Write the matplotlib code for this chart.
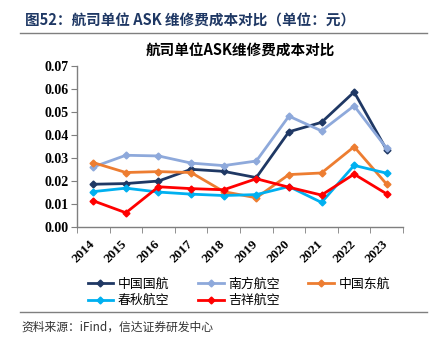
import numpy as np
import matplotlib
matplotlib.use('Agg')
import matplotlib.pyplot as plt
from matplotlib.lines import Line2D

plt.rcParams['font.family'] = ['Noto Sans CJK SC', 'DejaVu Sans']

# data
years = ['2014', '2015', '2016', '2017', '2018', '2019', '2020', '2021', '2022', '2023']
air_china = [0.0186, 0.0189, 0.0200, 0.0251, 0.0242, 0.0215, 0.0414, 0.0455, 0.0587, 0.0335]
china_southern = [0.0261, 0.0312, 0.0309, 0.0278, 0.0267, 0.0287, 0.0482, 0.0418, 0.0527, 0.0342]
china_eastern = [0.0280, 0.0237, 0.0241, 0.0237, 0.0154, 0.0127, 0.0228, 0.0235, 0.0349, 0.0186]
spring = [0.0154, 0.0169, 0.0152, 0.0143, 0.0137, 0.0141, 0.0176, 0.0107, 0.0268, 0.0234]
juneyao = [0.0114, 0.0062, 0.0175, 0.0167, 0.0162, 0.0210, 0.0173, 0.0139, 0.0230, 0.0144]

names = ['中国国航', '南方航空', '中国东航', '春秋航空', '吉祥航空']
series = [air_china, china_southern, china_eastern, spring, juneyao]
colors = ['#1F3864', '#8EA9DB', '#ED7D31', '#00B0F0', '#FF0000']

fig = plt.figure(figsize=(4.34, 3.52), dpi=100)
ax = fig.add_axes([0.1774, 0.355, 0.7512, 0.4575])

x = np.arange(len(years))
lines = []
for vals, c, n in zip(series, colors, names):
    l, = ax.plot(x, vals, color=c, lw=2, marker='D', ms=3.5, label=n, zorder=3)
    lines.append(l)

ax.set_xlim(-0.5, len(years) - 0.5)
ax.set_ylim(0, 0.07)
ax.set_yticks(np.arange(0, 0.071, 0.01))
ax.set_yticklabels(['%.2f' % v for v in np.arange(0, 0.071, 0.01)],
                   fontfamily='Liberation Serif', fontweight='bold', fontsize=10)
ax.set_xticks(x + 0.12)
ax.set_xticklabels(years, rotation=45, fontfamily='Liberation Serif',
                   fontweight='bold', fontsize=9.5, ha='right', va='top')
ax.set_xticks(np.arange(-0.5, len(years), 1), minor=True)
ax.tick_params(axis='x', which='major', length=0, pad=8)
ax.tick_params(axis='x', which='minor', length=4, color='#7f7f7f', direction='out')
ax.tick_params(axis='y', length=4, color='#7f7f7f', direction='out', pad=2)
for s in ['top', 'right']:
    ax.spines[s].set_visible(False)
for s in ['left', 'bottom']:
    ax.spines[s].set_color('#7f7f7f')
    ax.spines[s].set_linewidth(1)

ax.set_title('航司单位ASK维修费成本对比', fontsize=10.5, fontweight='bold', pad=8)

# legend ordered row-wise
order = [0, 3, 1, 4, 2]
fig.legend([lines[i] for i in order], [names[i] for i in order], ncol=3,
           loc='upper center', bbox_to_anchor=(0.55, 0.225), frameon=False,
           fontsize=9.3, handlelength=2.0, columnspacing=2.2, handletextpad=0.35,
           labelspacing=0.25, borderaxespad=0)

# header and footer
fig.text(0.058, 0.943, '图52：航司单位 ASK 维修费成本对比（单位：元）', fontsize=10.5,
         fontweight='bold', color='#1F3864', va='center')
fig.add_artist(Line2D([0.046, 0.984], [0.905, 0.905], color='#7f7f7f', lw=1))
fig.add_artist(Line2D([0.046, 0.984], [0.113, 0.113], color='#7f7f7f', lw=1))
fig.text(0.05, 0.07, '资料来源：iFind，信达证券研发中心', fontsize=8.5, style='italic',
         color='#333333', va='center')

fig.savefig('out.png', dpi=100)
